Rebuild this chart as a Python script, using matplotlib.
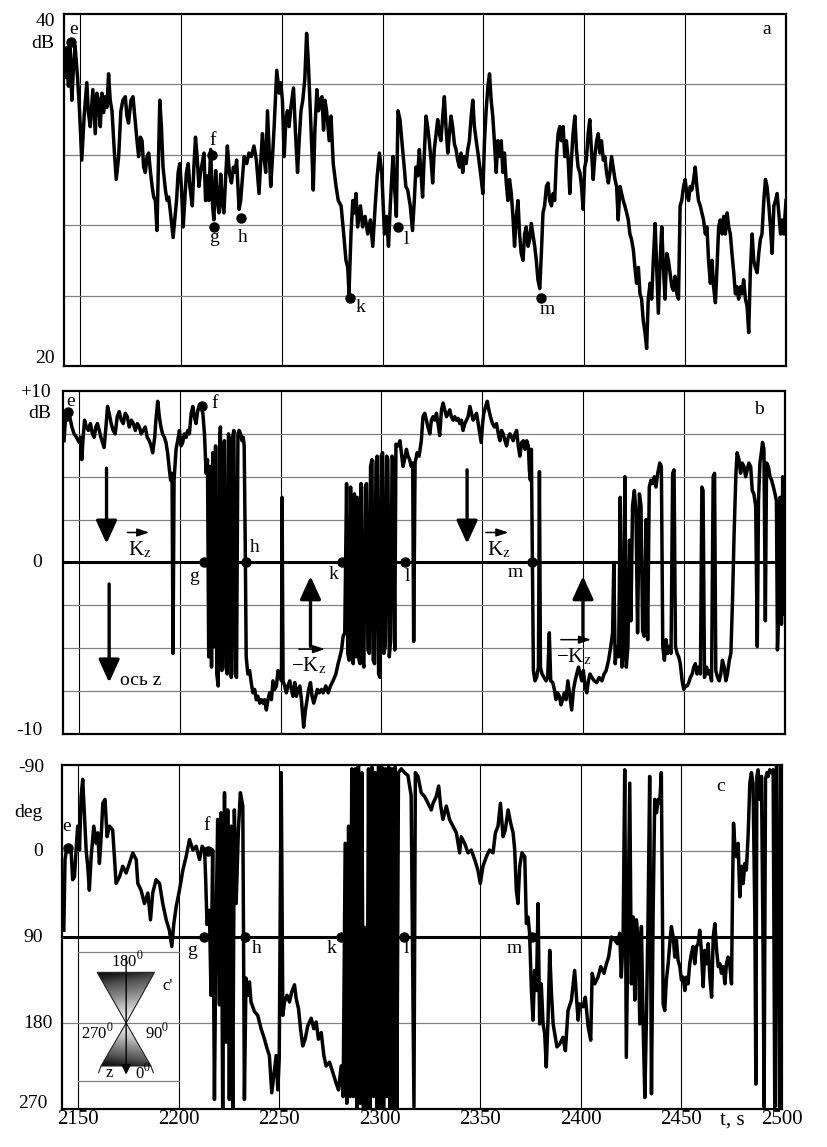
import numpy as np
import matplotlib
matplotlib.use('Agg')
import matplotlib.pyplot as plt
import matplotlib.transforms as mtransforms
from matplotlib.patches import Polygon

plt.rcParams['font.family'] = ['Liberation Serif', 'DejaVu Serif']
plt.rcParams['mathtext.fontset'] = 'stix'

# ---------------- data ----------------
grid_t = [2150, 2200, 2250, 2300, 2350, 2400, 2450]
tick_t = [2150, 2200, 2250, 2300, 2350, 2400, 2450, 2500]
tick_lbl = ['2150', '2200', '2250', '2300', '2350', '2400', '2450', '2500']

# panel a: level, dB
t_a = [2142.5, 2143.4, 2144.2, 2145.0, 2145.9, 2146.7, 2147.5, 2148.7, 2149.7, 2150.8,
       2152.0, 2153.3, 2154.1, 2155.0, 2156.3, 2157.5, 2158.3, 2159.1, 2160.0, 2160.8,
       2161.6, 2162.4, 2163.3, 2164.1, 2164.9, 2165.8, 2166.9, 2167.9, 2169.1, 2170.2,
       2171.2, 2172.4, 2173.2, 2174.0, 2175.2, 2176.2, 2177.4, 2178.2, 2179.0, 2179.9,
       2180.7, 2181.5, 2182.3, 2183.2, 2184.0, 2184.8, 2185.7, 2186.5, 2187.3, 2188.1,
       2188.8, 2189.5, 2190.3, 2191.1, 2192.3, 2193.1, 2193.9, 2194.8, 2196.1, 2196.9,
       2197.8, 2198.6, 2199.4, 2200.2, 2201.1, 2201.9, 2202.7, 2203.6, 2204.4, 2205.6,
       2206.4, 2207.2, 2208.0, 2208.9, 2209.7, 2210.5, 2211.4, 2212.2, 2213.0, 2213.8,
       2214.7, 2215.7, 2216.3, 2217.2, 2218.0, 2218.8, 2219.7, 2220.5, 2221.3, 2222.1,
       2223.0, 2224.0, 2225.0, 2226.0, 2226.8, 2227.6, 2228.8, 2229.6, 2230.4, 2231.3,
       2232.6, 2233.7, 2234.9, 2236.2, 2237.4, 2238.7, 2239.6, 2240.4, 2241.2, 2242.0,
       2242.9, 2243.7, 2244.5, 2245.4, 2246.2, 2247.5, 2248.7, 2249.5, 2250.3, 2251.2,
       2252.0, 2252.8, 2253.6, 2254.5, 2255.8, 2256.8, 2257.8, 2258.6, 2259.5, 2260.4,
       2261.4, 2262.3, 2263.1, 2263.9, 2264.8, 2265.6, 2266.4, 2267.4, 2268.2, 2269.0,
       2269.9, 2270.7, 2271.4, 2272.2, 2273.5, 2274.4, 2275.5, 2276.9, 2278.0, 2279.4,
       2280.7, 2281.8, 2282.7, 2283.3, 2284.3, 2285.2, 2286.0, 2286.8, 2287.6, 2289.0,
       2290.1, 2291.3, 2292.6, 2293.9, 2295.1, 2296.3, 2297.3, 2298.4, 2299.6, 2300.9,
       2301.9, 2302.9, 2303.9, 2305.1, 2305.9, 2306.8, 2307.6, 2308.6, 2309.2, 2309.9,
       2310.7, 2311.5, 2312.4, 2313.7, 2314.8, 2315.7, 2316.5, 2317.3, 2318.2, 2319.0,
       2319.8, 2320.6, 2321.5, 2322.3, 2323.1, 2324.0, 2324.8, 2325.6, 2326.5, 2327.3,
       2328.1, 2328.9, 2329.8, 2330.6, 2331.4, 2332.3, 2333.1, 2333.9, 2334.7, 2335.6,
       2336.4, 2337.2, 2338.1, 2338.9, 2339.7, 2340.5, 2341.4, 2342.2, 2343.0, 2343.9,
       2344.7, 2345.5, 2346.4, 2347.5, 2348.5, 2349.7, 2350.5, 2351.3, 2352.2, 2353.0,
       2353.8, 2354.6, 2355.5, 2356.3, 2357.1, 2358.0, 2358.8, 2359.6, 2360.4, 2361.3,
       2362.1, 2362.9, 2363.8, 2364.6, 2365.4, 2366.3, 2367.1, 2367.9, 2368.7, 2369.6,
       2370.4, 2371.2, 2372.1, 2372.9, 2373.7, 2374.5, 2375.4, 2376.2, 2377.0, 2377.9,
       2378.7, 2379.5, 2380.3, 2381.2, 2382.0, 2382.8, 2383.7, 2384.5, 2385.3, 2386.2,
       2387.0, 2387.8, 2388.6, 2389.5, 2390.3, 2391.1, 2392.0, 2392.8, 2393.6, 2394.4,
       2395.3, 2396.1, 2396.9, 2397.8, 2398.6, 2399.4, 2400.2, 2401.0, 2401.9, 2402.7,
       2403.5, 2404.4, 2405.2, 2406.1, 2406.9, 2407.7, 2408.5, 2409.4, 2410.2, 2411.0,
       2411.9, 2412.7, 2413.5, 2414.3, 2415.2, 2416.0, 2416.8, 2417.7, 2418.5, 2419.3,
       2420.1, 2421.0, 2421.8, 2422.6, 2423.4, 2424.3, 2425.1, 2425.9, 2426.8, 2427.6,
       2428.4, 2429.2, 2430.1, 2430.9, 2431.7, 2432.6, 2433.4, 2434.2, 2435.1, 2435.9,
       2436.7, 2437.6, 2438.4, 2439.2, 2440.0, 2440.9, 2441.7, 2442.5, 2443.4, 2444.2,
       2445.0, 2445.9, 2446.7, 2447.5, 2448.3, 2449.2, 2450.0, 2450.8, 2451.7, 2452.5,
       2453.3, 2454.2, 2455.0, 2455.8, 2456.6, 2457.5, 2458.3, 2459.1, 2460.0, 2460.8,
       2461.6, 2462.5, 2463.3, 2464.1, 2465.0, 2465.8, 2466.6, 2467.4, 2468.3, 2469.1,
       2469.9, 2470.8, 2471.6, 2472.4, 2473.2, 2474.1, 2474.9, 2475.7, 2476.5, 2477.4,
       2478.2, 2479.0, 2479.9, 2480.7, 2481.5, 2482.3, 2483.2, 2484.0, 2484.8, 2485.7,
       2486.5, 2487.3, 2488.1, 2489.0, 2489.8, 2490.6, 2491.5, 2492.3, 2493.1, 2494.0,
       2494.8, 2495.6, 2496.4, 2497.3, 2498.1, 2498.9, 2500.0]
db_a = [36.4, 38.1, 35.9, 38.3, 35.1, 37.0, 38.2, 36.4, 34.5, 31.7,
        34.2, 36.1, 34.4, 33.6, 35.7, 33.2, 35.5, 35.1, 33.6, 35.5,
        34.4, 35.3, 34.7, 36.6, 35.1, 34.5, 32.3, 30.6, 31.9, 34.5,
        35.1, 35.3, 34.2, 33.8, 35.1, 35.3, 33.8, 32.8, 31.9, 33.0,
        32.8, 31.3, 31.0, 31.9, 32.1, 31.1, 30.2, 29.6, 29.4, 27.7,
        31.3, 35.1, 33.6, 31.3, 30.0, 29.4, 29.6, 28.7, 27.3, 28.3,
        29.4, 31.0, 31.5, 30.2, 27.9, 29.4, 31.0, 31.5, 30.2, 29.1,
        31.3, 33.0, 31.9, 30.2, 31.0, 31.5, 32.1, 29.4, 30.8, 29.4,
        32.3, 29.1, 28.3, 31.1, 29.4, 28.7, 30.9, 29.2, 28.7, 30.6,
        32.5, 31.0, 30.4, 31.3, 31.0, 31.7, 28.9, 29.4, 30.6, 31.9,
        31.5, 32.1, 31.9, 32.5, 31.7, 29.8, 31.7, 33.2, 31.9, 31.0,
        34.5, 32.3, 30.2, 31.9, 33.6, 36.8, 35.5, 36.1, 35.1, 31.9,
        34.0, 34.5, 33.6, 34.7, 35.8, 33.2, 31.0, 32.8, 34.5, 35.1,
        36.3, 38.9, 37.4, 35.1, 32.6, 30.0, 33.4, 35.7, 34.5, 35.1,
        35.3, 33.4, 35.1, 34.5, 32.8, 34.2, 31.5, 30.2, 29.4, 29.1,
        27.5, 26.0, 25.6, 24.1, 27.5, 29.4, 28.7, 29.8, 27.9, 29.1,
        27.9, 28.5, 27.5, 28.3, 26.8, 29.1, 30.8, 32.1, 30.9, 27.5,
        28.5, 26.8, 29.4, 31.9, 30.2, 28.5, 34.5, 34.0, 33.2, 32.3,
        31.3, 30.2, 30.0, 29.1, 27.7, 29.4, 31.3, 30.8, 32.3, 31.0,
        29.6, 31.9, 34.2, 33.6, 32.8, 31.7, 30.4, 32.3, 33.2, 34.0,
        33.2, 32.8, 34.2, 35.3, 33.6, 32.1, 33.2, 34.2, 33.6, 32.6,
        32.3, 31.7, 31.3, 32.1, 31.0, 31.9, 31.5, 32.3, 32.8, 34.2,
        35.1, 33.6, 32.8, 31.9, 31.0, 29.8, 32.8, 34.5, 35.9, 36.6,
        35.1, 34.2, 32.6, 31.0, 32.8, 31.9, 32.8, 31.0, 32.1, 30.4,
        29.4, 30.6, 29.8, 28.5, 26.8, 28.5, 29.4, 27.5, 26.4, 26.0,
        27.5, 27.9, 26.8, 27.2, 28.1, 27.5, 26.8, 26.0, 24.9, 24.4,
        26.4, 28.7, 29.1, 30.2, 30.4, 29.4, 29.1, 29.8, 29.4, 31.9,
        33.2, 33.6, 32.8, 33.6, 31.9, 32.8, 31.7, 29.8, 31.7, 33.2,
        34.2, 32.3, 31.3, 31.0, 30.2, 28.9, 31.3, 31.7, 33.2, 34.0,
        32.3, 30.6, 31.9, 32.8, 33.2, 32.1, 32.8, 31.7, 31.9, 31.0,
        30.4, 31.0, 31.9, 31.3, 30.6, 30.2, 28.3, 30.2, 29.8, 29.4,
        29.1, 28.7, 28.3, 27.5, 27.2, 26.6, 25.6, 24.7, 25.6, 24.1,
        23.8, 22.6, 21.9, 21.0, 23.8, 24.7, 23.8, 26.0, 28.1, 25.6,
        23.0, 26.0, 27.9, 25.6, 23.8, 26.4, 26.0, 25.3, 24.5, 24.3,
        25.1, 24.1, 23.8, 29.1, 29.4, 30.2, 30.6, 29.8, 29.4, 30.2,
        30.0, 30.6, 31.3, 30.2, 29.4, 29.1, 28.7, 28.3, 27.5, 27.9,
        26.0, 24.7, 26.0, 24.5, 23.6, 25.6, 27.9, 28.3, 27.5, 28.5,
        27.5, 28.7, 27.9, 27.5, 26.4, 25.3, 24.1, 24.5, 23.8, 24.5,
        24.1, 24.9, 23.8, 23.4, 21.9, 25.3, 27.5, 26.0, 25.6, 25.3,
        26.4, 27.2, 27.5, 29.4, 30.6, 30.2, 29.1, 27.9, 26.4, 29.1,
        29.4, 29.8, 28.7, 27.5, 28.3, 27.5, 29.4]

# panel b: dB
t_b = [2142.5, 2143.4, 2144.2, 2145.0, 2146.4, 2147.5, 2148.7, 2150.0, 2150.8, 2151.3,
       2152.0, 2152.7, 2153.6, 2154.6, 2155.6, 2156.6, 2157.5, 2158.3, 2159.1, 2160.0,
       2160.8, 2161.6, 2162.4, 2163.3, 2164.1, 2164.9, 2165.9, 2166.9, 2167.9, 2168.9,
       2169.9, 2170.9, 2171.9, 2172.9, 2173.9, 2174.9, 2175.9, 2176.9, 2177.9, 2178.9,
       2179.9, 2180.8, 2181.8, 2182.8, 2183.8, 2184.8, 2185.7, 2186.5, 2187.5, 2188.1,
       2189.0, 2189.8, 2190.6, 2191.4, 2192.3, 2193.1, 2193.9, 2194.8, 2195.4, 2196.1,
       2196.6, 2197.1, 2198.1, 2198.9, 2199.8, 2200.6, 2201.4, 2202.2, 2203.1, 2203.9,
       2204.7, 2205.6, 2206.4, 2207.2, 2208.0, 2208.9, 2209.7, 2210.5, 2211.4, 2212.2,
       2213.0, 2213.7, 2214.3, 2215.0, 2215.7, 2216.3, 2217.0, 2217.7, 2218.3, 2219.0,
       2219.7, 2220.1, 2220.8, 2221.5, 2222.1, 2222.8, 2223.5, 2224.1, 2224.8, 2225.5,
       2226.1, 2226.8, 2227.4, 2228.1, 2228.8, 2229.4, 2230.1, 2230.8, 2231.4, 2231.9,
       2232.4, 2232.9, 2233.7, 2234.6, 2235.4, 2236.2, 2237.1, 2237.9, 2238.7, 2239.6,
       2240.4, 2241.2, 2242.0, 2242.9, 2243.7, 2244.5, 2245.4, 2246.2, 2247.0, 2247.9,
       2248.7, 2249.5, 2250.4, 2250.7, 2251.2, 2252.0, 2252.8, 2253.6, 2254.5, 2255.3,
       2256.1, 2257.0, 2257.8, 2258.6, 2259.5, 2260.3, 2261.4, 2262.3, 2263.1, 2263.9,
       2264.8, 2265.6, 2266.4, 2267.4, 2268.2, 2269.1, 2270.2, 2271.1, 2272.4, 2273.6,
       2274.7, 2276.0, 2277.4, 2278.5, 2279.4, 2280.2, 2281.0, 2281.8, 2282.7, 2283.3,
       2284.0, 2284.7, 2285.3, 2286.0, 2286.6, 2287.3, 2288.0, 2288.6, 2289.3, 2289.9,
       2290.6, 2291.3, 2292.0, 2292.6, 2293.3, 2294.0, 2294.6, 2295.3, 2295.9, 2296.6,
       2297.3, 2297.9, 2298.6, 2299.3, 2299.9, 2300.6, 2301.2, 2301.9, 2302.6, 2303.2,
       2303.9, 2304.6, 2305.3, 2305.9, 2306.6, 2307.2, 2308.3, 2309.2, 2309.9, 2310.7,
       2311.5, 2312.4, 2313.2, 2314.0, 2314.8, 2315.5, 2316.0, 2316.7, 2317.7, 2318.7,
       2319.8, 2320.6, 2321.5, 2322.3, 2323.1, 2324.0, 2324.8, 2325.6, 2326.5, 2327.3,
       2328.1, 2328.9, 2329.8, 2330.6, 2331.4, 2332.3, 2333.1, 2333.9, 2334.7, 2335.6,
       2336.4, 2337.2, 2338.1, 2338.9, 2339.7, 2340.5, 2341.4, 2342.2, 2343.0, 2343.9,
       2344.7, 2345.5, 2346.4, 2347.2, 2348.0, 2348.8, 2349.5, 2350.2, 2350.8, 2351.7,
       2352.5, 2353.3, 2354.1, 2355.1, 2356.1, 2357.1, 2358.0, 2358.8, 2359.6, 2360.4,
       2361.3, 2362.1, 2362.9, 2363.8, 2364.6, 2365.4, 2366.3, 2367.1, 2367.9, 2368.7,
       2369.6, 2370.4, 2371.2, 2372.1, 2372.9, 2373.4, 2373.9, 2374.4, 2374.9, 2375.4,
       2376.2, 2377.0, 2377.9, 2378.4, 2378.9, 2379.7, 2380.7, 2381.7, 2382.5, 2383.3,
       2384.0, 2385.0, 2385.8, 2386.6, 2387.4, 2388.3, 2389.1, 2389.9, 2390.8, 2391.6,
       2392.5, 2393.3, 2394.4, 2395.3, 2396.1, 2396.9, 2397.8, 2398.6, 2399.4, 2400.2,
       2401.0, 2401.9, 2402.7, 2403.5, 2404.4, 2405.6, 2406.9, 2408.0, 2409.4, 2410.5,
       2411.5, 2412.7, 2413.8, 2414.7, 2415.3, 2416.0, 2416.8, 2417.7, 2418.5, 2419.3,
       2420.1, 2420.8, 2421.5, 2422.3, 2423.1, 2423.8, 2424.6, 2425.5, 2426.3, 2427.1,
       2428.0, 2428.8, 2429.6, 2430.4, 2431.3, 2432.1, 2432.9, 2433.7, 2434.6, 2435.4,
       2436.2, 2437.1, 2438.1, 2438.9, 2439.6, 2440.4, 2441.2, 2442.1, 2442.9, 2443.7,
       2444.5, 2445.2, 2445.9, 2446.7, 2447.5, 2448.3, 2449.2, 2450.0, 2450.8, 2451.7,
       2452.5, 2453.3, 2454.2, 2455.0, 2455.8, 2456.6, 2457.5, 2458.3, 2459.0, 2459.6,
       2460.3, 2461.3, 2462.1, 2462.9, 2463.8, 2464.6, 2465.3, 2465.9, 2466.8, 2467.6,
       2468.4, 2469.2, 2470.1, 2470.9, 2471.7, 2472.6, 2473.4, 2474.2, 2475.0, 2475.9,
       2476.5, 2477.4, 2478.2, 2479.0, 2479.9, 2480.7, 2481.5, 2482.3, 2483.2, 2484.0,
       2484.8, 2485.7, 2486.5, 2487.1, 2487.8, 2488.5, 2489.1, 2489.8, 2490.5, 2491.1,
       2492.0, 2492.8, 2493.6, 2494.5, 2495.3, 2496.0, 2496.5, 2497.1, 2497.8, 2498.5,
       2499.1, 2499.8]
db_b = [7.1, 8.7, 8.3, 8.7, 7.9, 7.5, 7.3, 7.0, 7.3, 6.0,
        7.3, 8.3, 7.9, 7.7, 8.1, 7.5, 7.3, 7.9, 8.1, 7.7,
        7.3, 7.0, 6.7, 7.9, 9.1, 8.7, 8.1, 7.7, 7.5, 8.5,
        8.8, 8.3, 8.1, 8.7, 8.5, 7.9, 8.3, 8.1, 7.7, 8.1,
        7.9, 7.5, 7.7, 7.9, 7.3, 7.1, 6.8, 6.4, 7.3, 8.3,
        9.4, 8.5, 7.9, 7.5, 7.3, 7.0, 6.4, 5.4, 4.8, 5.2,
        -5.3, 4.8, 6.6, 7.1, 7.7, 6.8, 7.0, 7.5, 7.3, 7.7,
        7.5, 8.7, 9.1, 8.5, 8.1, 8.9, 9.1, 9.1, 8.7, 7.5,
        5.2, 6.0, -5.5, 5.6, -6.1, 6.4, -4.9, 6.8, -6.5, -7.2,
        6.8, 7.9, -6.3, 6.4, 7.1, -6.1, -6.5, 7.5, 6.8, -6.7,
        7.3, 7.7, -6.5, -6.7, 7.5, 7.7, 7.5, 7.1, 7.3, 6.8,
        1.3, -5.5, -6.5, -6.3, -7.0, -7.6, -7.4, -8.0, -7.8, -8.2,
        -8.0, -8.2, -8.0, -8.6, -8.0, -7.6, -8.0, -6.9, -7.4, -7.2,
        -6.3, -6.5, -6.9, 3.8, -6.9, -7.2, -7.6, -7.2, -6.9, -7.4,
        -7.8, -7.0, -7.8, -7.4, -7.2, -8.0, -9.6, -8.6, -8.0, -7.4,
        -7.0, -7.8, -8.2, -7.8, -7.4, -7.6, -7.4, -7.6, -7.2, -7.6,
        -7.2, -6.9, -6.5, -5.9, -5.5, -5.1, -4.3, -4.1, 4.6, -5.3,
        -5.7, 4.4, -5.1, -5.9, 4.0, -5.5, 3.8, -5.5, -5.9, 4.6,
        -5.7, -6.1, 4.4, 4.6, -5.1, -5.3, 5.6, 6.0, -5.7, -5.9,
        5.8, 6.2, -6.5, -6.7, 6.2, 6.4, -5.3, -4.9, 6.2, 6.0,
        -5.5, -4.5, 6.2, 5.8, -5.1, 6.9, 6.8, 7.1, 6.4, 5.6,
        6.0, 6.6, 6.2, 6.0, 5.6, 5.8, -4.6, 5.8, 6.4, 6.2,
        7.1, 8.5, 8.7, 8.3, 7.9, 7.5, 8.3, 8.5, 8.3, 8.7,
        8.1, 7.4, 8.9, 9.3, 8.9, 8.5, 8.7, 8.9, 8.5, 8.3,
        8.5, 8.3, 8.4, 8.1, 8.3, 7.7, 8.1, 8.3, 8.5, 9.1,
        8.7, 8.3, 8.5, 8.7, 8.1, 7.5, 7.0, 8.1, 8.7, 9.1,
        9.4, 8.9, 8.5, 8.1, 7.9, 8.1, 7.5, 7.1, 7.7, 7.5,
        7.1, 6.8, 7.3, 7.5, 7.3, 7.1, 7.5, 7.7, 6.8, 6.2,
        7.0, 7.1, 6.6, 7.1, 6.8, 5.4, 4.8, 6.6, 0.0, -6.3,
        -6.9, -6.7, -6.1, 5.3, -6.1, -6.5, -6.7, -6.9, -6.7, -4.1,
        -6.9, -7.0, -7.4, -8.0, -7.6, -7.8, -8.3, -8.0, -7.6, -8.0,
        -6.9, -7.6, -8.6, -7.4, -6.9, -6.5, -6.1, -6.5, -6.9, -6.3,
        -7.2, -7.6, -6.9, -6.5, -6.7, -6.9, -7.0, -6.7, -6.9, -6.5,
        -6.3, -5.7, -4.9, -4.1, 0.0, -5.9, -4.9, -5.5, 3.8, -6.1,
        -5.3, 5.0, -6.1, -4.9, 1.3, -3.4, 3.3, 4.2, 2.9, -4.1,
        4.0, 3.3, -4.0, -4.3, 2.5, -4.5, 4.4, 4.8, 4.6, 5.0,
        4.4, 5.2, 5.8, 5.6, -4.9, -5.7, -4.5, -5.3, -4.9, -5.3,
        5.2, 5.4, -4.9, -5.3, -5.5, -5.9, -6.9, -7.4, -7.2, -7.2,
        -7.0, -6.7, -6.5, -6.1, -5.9, -6.5, -6.1, -6.5, 4.4, 4.2,
        -6.7, -6.1, -6.5, -6.3, -6.9, 5.0, 5.2, -6.3, -6.7, -6.9,
        -6.5, -5.7, -6.1, -6.9, -6.5, -5.7, -5.3, -2.2, 1.7, 5.2,
        6.4, 6.0, 5.2, 5.8, 5.6, 5.0, 5.4, 5.8, 5.6, 4.2,
        4.0, 3.3, -4.9, 3.6, 5.8, 6.4, 7.0, 6.6, -3.4, 5.8,
        5.6, 5.0, 4.8, 4.4, 4.0, 3.6, -5.1, -3.0, 3.8, -3.6,
        5.0, -3.0]

# panel c: angle, deg
t_c = [2142.9, 2143.5, 2144.5, 2145.7, 2146.5, 2147.3, 2148.2, 2149.0, 2149.8, 2150.7,
       2151.5, 2152.3, 2153.2, 2154.0, 2154.8, 2155.6, 2156.5, 2157.8, 2159.0, 2159.8,
       2160.6, 2161.4, 2162.3, 2163.4, 2164.4, 2165.6, 2167.2, 2168.9, 2170.6, 2172.2,
       2173.9, 2175.5, 2177.2, 2178.9, 2179.7, 2181.3, 2183.0, 2184.7, 2186.0, 2187.1,
       2188.8, 2190.5, 2192.1, 2193.8, 2195.4, 2196.6, 2197.6, 2198.8, 2200.4, 2202.1,
       2203.7, 2205.4, 2207.1, 2208.7, 2210.4, 2211.7, 2212.9, 2213.4, 2214.1, 2215.3,
       2216.1, 2216.9, 2217.8, 2218.6, 2219.4, 2220.3, 2221.1, 2221.9, 2222.8, 2223.6,
       2224.4, 2225.2, 2226.1, 2226.9, 2227.7, 2228.6, 2229.7, 2230.7, 2231.9, 2232.7,
       2233.5, 2234.4, 2235.2, 2236.0, 2237.7, 2239.3, 2241.0, 2242.7, 2244.0, 2245.1,
       2246.3, 2247.3, 2248.5, 2249.3, 2250.0, 2251.0, 2251.8, 2252.6, 2253.9, 2255.1,
       2256.3, 2257.6, 2258.4, 2259.6, 2260.6, 2261.7, 2262.9, 2264.2, 2265.9, 2267.2,
       2268.4, 2269.5, 2270.9, 2272.2, 2273.3, 2275.0, 2276.7, 2278.3, 2279.5, 2280.8,
       2281.8, 2282.8, 2283.6, 2284.5, 2285.3, 2286.1, 2286.9, 2287.8, 2288.6, 2289.4,
       2290.3, 2291.1, 2291.9, 2292.7, 2293.6, 2294.4, 2295.2, 2296.1, 2296.9, 2297.7,
       2298.5, 2299.4, 2300.2, 2301.0, 2301.9, 2302.7, 2303.5, 2304.4, 2305.2, 2306.0,
       2306.8, 2307.7, 2308.5, 2309.3, 2310.7, 2312.3, 2314.0, 2315.6, 2317.0, 2317.7,
       2319.0, 2320.6, 2322.3, 2324.0, 2325.6, 2326.5, 2328.1, 2329.3, 2330.3, 2331.4,
       2333.1, 2334.7, 2336.4, 2338.1, 2339.7, 2340.5, 2342.2, 2343.9, 2345.5, 2347.2,
       2348.8, 2350.0, 2351.3, 2353.0, 2354.6, 2356.3, 2357.5, 2358.8, 2360.0, 2361.3,
       2362.4, 2363.8, 2365.1, 2366.3, 2367.1, 2367.9, 2368.7, 2369.6, 2370.7, 2372.1,
       2372.9, 2373.7, 2374.5, 2375.4, 2376.2, 2377.0, 2377.9, 2378.7, 2379.5, 2380.3,
       2381.2, 2382.0, 2382.8, 2383.7, 2384.5, 2385.3, 2386.2, 2387.0, 2388.1, 2389.5,
       2391.1, 2392.3, 2393.6, 2395.3, 2396.9, 2397.8, 2398.6, 2399.4, 2401.1, 2402.2,
       2403.6, 2404.9, 2405.6, 2406.9, 2408.5, 2409.9, 2411.5, 2412.7, 2413.8, 2415.2,
       2416.8, 2418.2, 2419.3, 2420.1, 2421.0, 2421.8, 2422.6, 2423.5, 2424.3, 2425.1,
       2426.0, 2426.8, 2427.6, 2428.4, 2429.3, 2430.1, 2430.9, 2431.8, 2432.6, 2433.4,
       2434.2, 2435.1, 2435.9, 2436.7, 2437.6, 2438.4, 2439.2, 2440.0, 2440.9, 2441.7,
       2442.5, 2443.4, 2444.2, 2445.0, 2445.9, 2446.7, 2447.5, 2448.3, 2449.2, 2450.0,
       2450.8, 2451.7, 2452.5, 2453.3, 2454.1, 2455.0, 2455.8, 2456.6, 2457.5, 2458.3,
       2459.1, 2459.9, 2460.8, 2461.6, 2462.4, 2463.3, 2464.1, 2465.0, 2465.8, 2466.6,
       2467.5, 2468.3, 2469.1, 2469.9, 2470.8, 2471.6, 2472.4, 2473.2, 2474.0, 2474.9,
       2475.4, 2475.9, 2476.5, 2477.4, 2478.2, 2479.0, 2479.9, 2480.7, 2481.5, 2482.3,
       2483.2, 2484.0, 2484.8, 2485.6, 2486.5, 2487.0, 2487.5, 2488.1, 2489.0, 2489.8,
       2490.6, 2491.1, 2491.8, 2492.5, 2493.1, 2493.9, 2494.8, 2495.6, 2496.4, 2497.3,
       2498.1, 2498.8, 2499.4, 2500.0]
deg_c = [83, 9, -5, -6, -1, 30, 27, -1, -26, -1,
         -57, -75, -36, -1, 16, 41, 6, -26, -8, -19,
         13, -12, -50, -54, -15, -26, -22, 34, 27, 16,
         23, 13, 2, 9, 34, 41, 55, 44, 72, 44,
         30, 34, 55, 72, 83, 100, 76, 58, 41, 20,
         6, -12, -1, -5, 9, -5, -1, 27, 77, 62,
         151, -1, 260, 80, -33, 161, -40, 271, -61, 200,
         -43, 260, -26, 269, -43, 55, -22, -61, -47, 260,
         133, 151, 137, 158, 168, 172, 186, 197, 207, 214,
         253, 235, 214, 250, 218, -82, 172, 158, 151, 158,
         147, 140, 154, 165, 186, 204, 197, 183, 175, 186,
         179, 197, 190, 214, 225, 221, 232, 243, 250, 225,
         257, -8, 264, -26, 257, -86, 257, -86, 269, -89,
         264, -82, 269, 80, 269, -86, 269, -88, 257, -82,
         269, -89, 269, -88, 269, -86, 257, -88, 269, -86,
         269, -88, 269, -82, -86, -82, -79, -58, 268, -82,
         -78, -61, -57, -50, -43, -50, -57, -68, -47, -33,
         -47, -33, -26, -19, 2, -15, -8, 2, -1, 9,
         20, 34, 16, 6, -1, 2, -19, -26, -50, -15,
         -22, -43, -29, -19, -1, 41, 55, 16, 2, 6,
         76, 69, 86, 146, 177, 125, 146, 55, 181, 139,
         181, 191, 226, 174, 104, 146, 181, 191, 205, 202,
         195, 209, 167, 156, 125, 153, 177, 160, 163, 153,
         184, 198, 128, 139, 132, 121, 128, 118, 111, 90,
         93, 97, 86, 132, 90, -85, 216, 62, -71, 139,
         69, 156, 72, 90, 181, 79, 177, 258, 174, 69,
         -78, 254, 69, -54, -40, -54, -50, -82, 160, 167,
         135, 118, 97, 79, 90, 111, 93, 114, 121, 135,
         132, 146, 132, 139, 118, 107, 100, 118, 100, 97,
         83, 104, 142, 104, 118, 97, 132, 153, 90, 76,
         104, 121, 118, 128, 121, 139, 118, 111, 118, 139,
         41, -29, -8, 6, -8, 48, 16, 34, 13, 20,
         -19, -71, -82, -71, 69, 244, -78, -85, -54, -78,
         104, 268, -75, -82, -78, -85, -82, -85, 268, -89,
         86, 268, -89, 268]

# labelled points: (letter, t, value, label t, label value)
marks_a = [('e', 2145.5, 38.4, 2146.8, 39.1), ('f', 2215.5, 32.0, 2215.5, 32.8),
           ('g', 2216.3, 27.9, 2216.3, 27.3), ('h', 2230.0, 28.4, 2230.8, 27.3),
           ('k', 2283.7, 23.85, 2289.0, 23.3), ('l', 2307.5, 27.9, 2311.7, 27.2),
           ('m', 2378.4, 23.85, 2381.5, 23.2)]
marks_b = [('e', 2144.7, 8.8, 2146.0, 9.4), ('f', 2211.0, 9.1, 2217.2, 9.3),
           ('g', 2212.2, 0.0, 2207.2, -0.8), ('h', 2232.6, 0.0, 2237.1, 0.9),
           ('k', 2280.2, 0.0, 2276.0, -0.7), ('l', 2311.7, 0.0, 2312.9, -0.8),
           ('m', 2374.5, 0.0, 2366.3, -0.6)]
marks_c = [('e', 2144.9, -3, 2144.5, -26), ('f', 2214.5, 0, 2213.7, -27),
           ('g', 2212.4, 90, 2206.6, 104), ('h', 2233.1, 90, 2238.6, 102),
           ('k', 2280.8, 90, 2276.2, 102), ('l', 2311.9, 90, 2313.2, 102),
           ('m', 2375.5, 90, 2366.7, 102)]

# K_z arrows of panel b: (t, from, to)
arrows_b = [(2163.6, 5.5, 1.1), (2164.9, -1.25, -7.0), (2264.8, -4.9, -0.8),
            (2342.5, 5.4, 1.1), (2400.0, -4.5, -0.8)]
# K_z vector labels: (text, t, value, arrow t0, arrow t1, arrow value)
kz_labels = [('K', 2180.2, 0.75, 2174.0, 2184.8, 1.75),
             ('K', 2358.1, 0.75, 2351.8, 2363.0, 1.75),
             ('\u2212K', 2264.0, -6.05, 2259.0, 2272.0, -5.05),
             ('\u2212K', 2395.4, -5.5, 2389.0, 2404.0, -4.5)]

# ---------------- figure ----------------
fig = plt.figure(figsize=(8.27, 11.47), dpi=100)
ax_a = fig.add_axes([64 / 827, 1 - 366 / 1147, 722 / 827, 352 / 1147])
ax_b = fig.add_axes([63 / 827, 1 - 734 / 1147, 721.5 / 827, 343 / 1147])
ax_c = fig.add_axes([62 / 827, 1 - 1109 / 1147, 720 / 827, 344 / 1147])


def frame(ax, hgrid, ylim):
    ax.set_xlim(2142, 2500)
    ax.set_ylim(*ylim)
    for x in grid_t:
        ax.axvline(x, color='black', lw=0.8, zorder=1)
    for y in hgrid:
        ax.axhline(y, color='#808080', lw=0.9, zorder=1)
    ax.set_xticks([])
    ax.set_yticks([])
    for s in ax.spines.values():
        s.set_linewidth(1.6)


def ylabels(ax, items):
    tr = mtransforms.blended_transform_factory(ax.transAxes, ax.transData)
    for txt, xf, y in items:
        ax.text(xf, y, txt, transform=tr, ha='center', va='center', fontsize=14)


def marks(ax, items):
    for name, t, v, lt, lv in items:
        ax.plot(t, v, 'o', color='black', ms=6.5, zorder=5)
        ax.text(lt, lv, name, ha='center', va='center', fontsize=14, zorder=6)


# panel a
frame(ax_a, [24, 28, 32, 36], (20, 40))
ax_a.plot(t_a, db_a, color='black', lw=2.5, zorder=3)
marks(ax_a, marks_a)
ax_a.text(2490.3, 39.1, 'a', ha='center', va='center', fontsize=14)
ylabels(ax_a, [('40', -0.026, 39.6), ('dB', -0.029, 38.35), ('20', -0.026, 20.45)])

# panel b
frame(ax_b, [-7.5, -5, -2.5, 2.5, 5, 7.5], (-10, 10))
ax_b.axhline(0, color='black', lw=2.2, zorder=2)
ax_b.plot(t_b, db_b, color='black', lw=2.5, zorder=3)
marks(ax_b, marks_b)
ax_b.text(2487.3, 8.9, 'b', ha='center', va='center', fontsize=14)
ylabels(ax_b, [('+10', -0.039, 9.9), ('dB', -0.032, 8.7), ('0', -0.036, 0.0),
               ('-10', -0.046, -9.8)])
for t, v0, v1 in arrows_b:
    ax_b.annotate('', xy=(t, v1), xytext=(t, v0),
                  arrowprops=dict(arrowstyle='-|>,head_length=0.7,head_width=0.32',
                                  lw=2.4, color='black', mutation_scale=20,
                                  shrinkA=0, shrinkB=0), zorder=6)
for txt, t, v, a0, a1, av in kz_labels:
    ax_b.text(t, v, txt + r'$_\mathrm{z}$', ha='center', va='center', fontsize=15)
    ax_b.annotate('', xy=(a1, av), xytext=(a0, av),
                  arrowprops=dict(arrowstyle='-|>,head_length=0.6,head_width=0.2',
                                  lw=1.1, color='black', mutation_scale=12,
                                  shrinkA=0, shrinkB=0))
ax_b.text(2170.5, -6.9, 'ось z', ha='left', va='center', fontsize=14)

# panel c
frame(ax_c, [0, 180], (270, -90))
ax_c.axhline(90, color='black', lw=2.2, zorder=2)
ax_c.plot(t_c, deg_c, color='black', lw=2.5, zorder=3)
marks(ax_c, marks_c)
ax_c.text(2469.6, -68, 'c', ha='center', va='center', fontsize=14)
ylabels(ax_c, [('-90', -0.042, -87), ('deg', -0.047, -40), ('0', -0.033, 0),
               ('90', -0.040, 90), ('180', -0.033, 180), ('270', -0.040, 264)])
ax_c.set_xticks(tick_t)
ax_c.set_xticklabels(tick_lbl, fontsize=15)
ax_c.tick_params(axis='x', length=0, pad=1)
ax_c.annotate('t, s', xy=(2475.5, 0), xycoords=('data', 'axes fraction'),
              xytext=(0, -1), textcoords='offset points', ha='center', va='top',
              fontsize=15)

# inset: cone sketch
ax_c.plot([2150, 2200], [106, 106], color='#808080', lw=0.9, zorder=2)
ax_c.plot([2150, 2200], [241, 241], color='#808080', lw=0.9, zorder=2)
apex = (2173.9, 180)
up_tri = Polygon([(2159.5, 127), (2188.0, 127), apex], closed=True,
                 facecolor='none', edgecolor='#222222', lw=0.8, zorder=4)
lo_tri = Polygon([(2161.4, 225), (2186.2, 225), apex], closed=True,
                 facecolor='none', edgecolor='#222222', lw=0.8, zorder=4)
ax_c.add_patch(up_tri)
ax_c.add_patch(lo_tri)
gy = np.linspace(0.0, 1.0, 60)[:, None]
gx = np.linspace(0.0, 1.0, 60)[None, :]
shade_up = 0.9 - 0.8 * gy + 0.15 * (0.5 - gx)
shade_lo = 0.1 + 0.8 * gy + 0.15 * (0.5 - gx)
im1 = ax_c.imshow(shade_up, extent=(2159.5, 2188.0, 180, 127), cmap='Greys',
                  vmin=0, vmax=1, aspect='auto', zorder=3, origin='upper')
im1.set_clip_path(up_tri)
im2 = ax_c.imshow(shade_lo, extent=(2161.4, 2186.2, 225, 180), cmap='Greys',
                  vmin=0, vmax=1, aspect='auto', zorder=3, origin='upper')
im2.set_clip_path(lo_tri)
ax_c.plot([2161.4, 2160.2], [225, 232], color='#222222', lw=0.8, zorder=4)
ax_c.plot([2186.2, 2187.4], [225, 232], color='#222222', lw=0.8, zorder=4)
ax_c.annotate('', xy=(apex[0], 234), xytext=(apex[0], 112),
              arrowprops=dict(arrowstyle='-|>,head_length=0.5,head_width=0.25',
                              lw=1.0, color='black', mutation_scale=12,
                              shrinkA=0, shrinkB=0), zorder=5)
sup0 = r'$^{\mathrm{0}}$'
ax_c.text(2174.5, 114, '180' + sup0, ha='center', va='center', fontsize=12, zorder=6)
ax_c.text(2159.5, 190, '270' + sup0, ha='center', va='center', fontsize=12, zorder=6)
ax_c.text(2189.3, 190, '90' + sup0, ha='center', va='center', fontsize=12, zorder=6)
ax_c.text(2165.6, 232, 'z', ha='center', va='center', fontsize=12, zorder=6)
ax_c.text(2182.2, 232, '0' + sup0, ha='center', va='center', fontsize=12, zorder=6)
ax_c.text(2194.3, 141, "c'", ha='center', va='center', fontsize=12, zorder=6)

ax_c.set_xlim(2142, 2500)
ax_c.set_ylim(270, -90)

fig.savefig('out.png', dpi=100)
